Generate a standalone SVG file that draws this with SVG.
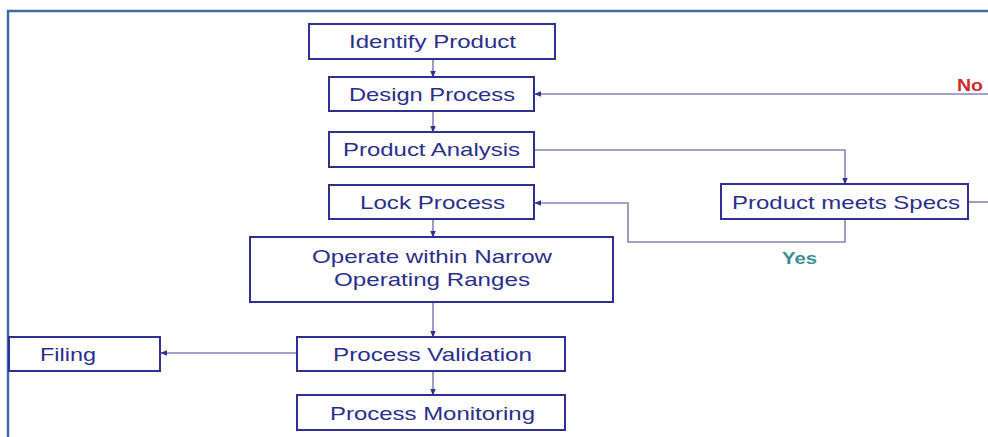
<svg xmlns="http://www.w3.org/2000/svg" width="988" height="437" viewBox="0 0 988 437">
<style>
.box{fill:#fff;stroke:#2e3192;stroke-width:2}
.t{font-family:"Liberation Sans",Arial,sans-serif;font-size:19px;fill:#2b2f8c;text-anchor:middle}
.c{fill:none;stroke:#8585b5;stroke-width:1.6}
.frame{fill:none;stroke:#3f6aa6;stroke-width:2.5}
</style>
<defs>
<marker id="ah" viewBox="0 0 10 10" refX="9" refY="5" markerWidth="7" markerHeight="7" markerUnits="userSpaceOnUse" orient="auto">
<path d="M0,1 L10,5 L0,9 Z" fill="#2e3192"/>
</marker>
</defs>
<rect width="988" height="437" fill="#fff"/>
<path class="frame" d="M8,437 V11 H988"/>
<g id="connectors">
<line class="c" x1="433" y1="59" x2="433" y2="77" marker-end="url(#ah)"/>
<line class="c" x1="433" y1="111" x2="433" y2="132" marker-end="url(#ah)"/>
<polyline class="c" points="534,150 845,150 845,184" marker-end="url(#ah)"/>
<line class="c" x1="988" y1="94" x2="535" y2="94" marker-end="url(#ah)"/>
<line class="c" x1="968" y1="202" x2="988" y2="202"/>
<polyline class="c" points="845,219 845,242 628,242 628,203 535,203" marker-end="url(#ah)"/>
<line class="c" x1="433" y1="219" x2="433" y2="237" marker-end="url(#ah)"/>
<line class="c" x1="433" y1="302" x2="433" y2="337" marker-end="url(#ah)"/>
<line class="c" x1="433" y1="371" x2="433" y2="395" marker-end="url(#ah)"/>
<line class="c" x1="297" y1="353" x2="161" y2="353" marker-end="url(#ah)"/>
<text x="957" y="91" font-family="Liberation Sans, Arial, sans-serif" font-size="17" font-weight="bold" fill="#cc2b2b" textLength="26" lengthAdjust="spacingAndGlyphs">No</text>
<text x="782" y="264" font-family="Liberation Sans, Arial, sans-serif" font-size="17" font-weight="bold" fill="#3e8f94" textLength="35" lengthAdjust="spacingAndGlyphs">Yes</text>
</g>
<g id="identify-product">
<rect class="box" x="309" y="24" width="246" height="35"/>
<text class="t" x="432.5" y="48" textLength="167" lengthAdjust="spacingAndGlyphs">Identify Product</text>
</g>
<g id="design-process">
<rect class="box" x="329" y="77" width="205" height="34"/>
<text class="t" x="432" y="101" textLength="166" lengthAdjust="spacingAndGlyphs">Design Process</text>
</g>
<g id="product-analysis">
<rect class="box" x="329" y="132" width="205" height="35"/>
<text class="t" x="431.5" y="156" textLength="177" lengthAdjust="spacingAndGlyphs">Product Analysis</text>
</g>
<g id="lock-process">
<rect class="box" x="329" y="185" width="205" height="34"/>
<text class="t" x="432.5" y="209" textLength="145" lengthAdjust="spacingAndGlyphs">Lock Process</text>
</g>
<g id="product-meets-specs">
<rect class="box" x="721" y="184" width="247" height="35"/>
<text class="t" x="846" y="209" textLength="228" lengthAdjust="spacingAndGlyphs">Product meets Specs</text>
</g>
<g id="operate">
<rect class="box" x="250" y="237" width="363" height="65"/>
<text class="t" x="432" y="263" textLength="240" lengthAdjust="spacingAndGlyphs">Operate within Narrow</text>
<text class="t" x="432" y="286" textLength="196" lengthAdjust="spacingAndGlyphs">Operating Ranges</text>
</g>
<g id="process-validation">
<rect class="box" x="297" y="337" width="268" height="34"/>
<text class="t" x="432.5" y="361" textLength="199" lengthAdjust="spacingAndGlyphs">Process Validation</text>
</g>
<g id="filing">
<rect class="box" x="9" y="337" width="151" height="34"/>
<text class="t" x="68" y="361" textLength="56" lengthAdjust="spacingAndGlyphs">Filing</text>
</g>
<g id="process-monitoring">
<rect class="box" x="297" y="395" width="268" height="35"/>
<text class="t" x="432.5" y="420" textLength="205" lengthAdjust="spacingAndGlyphs">Process Monitoring</text>
</g>
</svg>
